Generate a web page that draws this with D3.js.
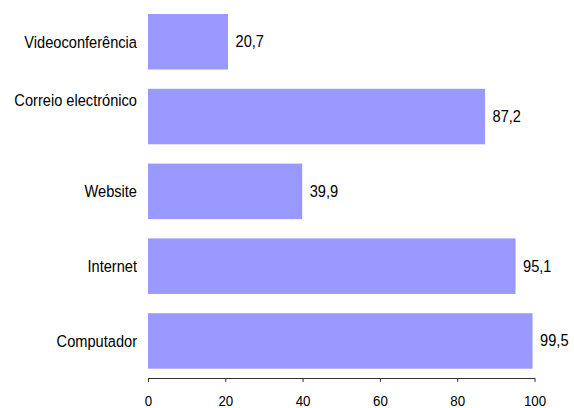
<!DOCTYPE html>
<html><head><meta charset="utf-8">
<script src="https://cdn.jsdelivr.net/npm/d3@7"></script>
<style>body{margin:0;background:#fff}svg{display:block}text{font-family:"Liberation Sans",Arial,sans-serif;fill:#000}</style>
</head><body><svg id="c" width="574" height="408"></svg>
<script>
const categories = ["Videoconferência","Correio electrónico","Website","Internet","Computador"];
const values = [20.7, 87.2, 39.9, 95.1, 99.5];
const valueLabels = ["20,7","87,2","39,9","95,1","99,5"];
const ticks = [0,20,40,60,80,100];

const svg = d3.select("#c");
const x = d3.scaleLinear().domain([0,100]).range([148,534.5]);
const y = d3.scaleBand().domain(categories).range([6.5,376.2]).paddingInner(0.258).paddingOuter(0.1);
const labelDy = {"Correio electrónico": -17};
const FS = 17, SX = 0.86;

svg.selectAll("rect.bar").data(categories).join("rect")
  .attr("class","bar")
  .attr("x", x(0))
  .attr("y", d => y(d))
  .attr("width", (d,i) => x(values[i]) - x(0))
  .attr("height", y.bandwidth())
  .attr("fill","#9999ff");

svg.selectAll("text.cat").data(categories).join("text")
  .attr("class","cat")
  .attr("transform", d => `translate(137,${y(d) + y.bandwidth()/2 + (labelDy[d]||0)}) scale(${SX},1)`)
  .attr("dy","0.35em")
  .attr("text-anchor","end")
  .style("font-size", FS+"px")
  .text(d => d);

svg.selectAll("text.val").data(categories).join("text")
  .attr("class","val")
  .attr("transform", (d,i) => `translate(${x(values[i]) + 7.5},${y(d) + y.bandwidth()/2 - 0.5}) scale(${SX},1)`)
  .attr("dy","0.35em")
  .style("font-size", FS+"px")
  .text((d,i) => valueLabels[i]);

const ax = d3.axisBottom(x).tickValues(ticks).tickSize(4).tickSizeOuter(0).tickPadding(0).tickFormat(d3.format("d"));
const g = svg.append("g").attr("transform","translate(0,378)").call(ax);
g.select(".domain").attr("stroke","#333");
g.selectAll(".tick line").attr("stroke","#333");
g.selectAll(".tick text").attr("y",null).attr("dy",null)
  .attr("transform", `translate(0,22.5) scale(${SX},1)`)
  .attr("dy","0.35em")
  .style("font-size","15.5px").attr("fill","#000");
</script></body></html>
